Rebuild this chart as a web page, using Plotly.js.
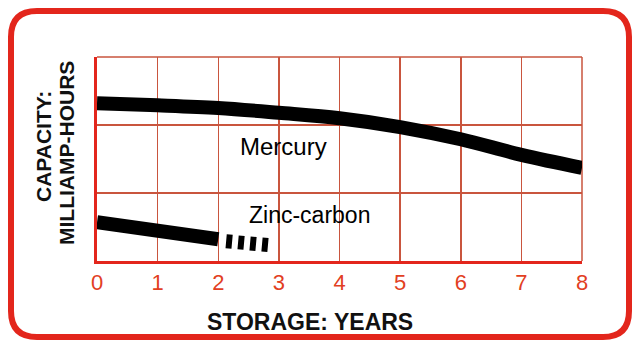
<!DOCTYPE html>
<html>
<head>
<meta charset="utf-8">
<script src="https://cdn.plot.ly/plotly-3.0.1.min.js"></script>
<style>
  html, body { margin: 0; padding: 0; background: #ffffff; }
  #chart { width: 635px; height: 342px; }
</style>
</head>
<body>
<div id="chart"></div>
<script>
// Battery capacity after storage, in grid units of milliamp-hours
const years = [0, 1, 2, 3, 4, 5, 6, 7, 8];
const mercury = [2.32, 2.29, 2.25, 2.18, 2.10, 1.97, 1.79, 1.56, 1.37];

const zincYears = [0, 1, 2];
const zincCarbon = [0.57, 0.46, 0.32];

// projected (dashed) tail of the zinc-carbon curve
const zincTailYears = [2.13, 2.88];
const zincTail = [0.29, 0.23];

const xTickVals = [0, 1, 2, 3, 4, 5, 6, 7, 8];
const xTickText = ['0', '1', '2', '3', '4', '5', '6', '7', '8'];
const yGridVals = [0, 1, 2, 3];

const xTitle = 'STORAGE: YEARS';
const yTitleLines = ['CAPACITY:', 'MILLIAMP-HOURS'];

const W = 635, H = 342;
const M = { l: 97, r: 53, t: 57, b: 81 };
const PW = W - M.l - M.r, PH = H - M.t - M.b;

// pixel position -> paper fraction, for the frame and titles
const fx = px => (px - M.l) / PW;
const fy = py => (H - M.b - py) / PH;

function roundedFrame(left, top, right, bottom, r) {
  const x0 = fx(left), x1 = fx(right), y0 = fy(bottom), y1 = fy(top);
  const rx = r / PW, ry = r / PH;
  return `M ${x0 + rx} ${y1} L ${x1 - rx} ${y1} Q ${x1} ${y1} ${x1} ${y1 - ry} ` +
         `L ${x1} ${y0 + ry} Q ${x1} ${y0} ${x1 - rx} ${y0} ` +
         `L ${x0 + rx} ${y0} Q ${x0} ${y0} ${x0} ${y0 + ry} ` +
         `L ${x0} ${y1 - ry} Q ${x0} ${y1} ${x0 + rx} ${y1} Z`;
}

const RED = '#e3261c';
const GRID = '#c9553e';
const SANS = '"Liberation Sans", Arial, Helvetica, sans-serif';
const titleFont = size => ({ family: SANS, size: size, color: '#111111', weight: 'bold' });

const traces = [
  {
    x: years, y: mercury, type: 'scatter', mode: 'lines',
    line: { color: '#000000', width: 14, shape: 'spline', smoothing: 1 },
    hoverinfo: 'skip', showlegend: false
  },
  {
    x: zincYears, y: zincCarbon, type: 'scatter', mode: 'lines',
    line: { color: '#000000', width: 14 },
    hoverinfo: 'skip', showlegend: false
  },
  {
    x: zincTailYears, y: zincTail, type: 'scatter', mode: 'lines',
    line: { color: '#000000', width: 14, dash: '6px,6px' },
    hoverinfo: 'skip', showlegend: false
  }
];

const layout = {
  width: W, height: H,
  margin: M,
  paper_bgcolor: '#ffffff',
  plot_bgcolor: '#ffffff',
  showlegend: false,
  xaxis: {
    range: [0, 8],
    tickvals: xTickVals, ticktext: xTickText,
    ticks: '',
    tickfont: { family: SANS, size: 22, color: '#e2401f' },
    showgrid: true, gridcolor: GRID, gridwidth: 1.5,
    zeroline: false,
    showline: true, linecolor: RED, linewidth: 3,
    fixedrange: true
  },
  yaxis: {
    range: [0, 3],
    tickvals: yGridVals,
    showticklabels: false,
    ticks: '',
    showgrid: true, gridcolor: GRID, gridwidth: 1.5,
    zeroline: false,
    showline: true, linecolor: RED, linewidth: 3,
    fixedrange: true
  },
  shapes: [
    // thin border on the top and right of the grid
    { type: 'line', xref: 'paper', yref: 'paper', x0: 0, x1: 1, y0: 1, y1: 1,
      line: { color: GRID, width: 1.5 }, layer: 'below' },
    { type: 'line', xref: 'paper', yref: 'paper', x0: 1, x1: 1, y0: 0, y1: 1,
      line: { color: GRID, width: 1.5 }, layer: 'below' },
    // rounded red frame around the whole figure
    { type: 'path', xref: 'paper', yref: 'paper',
      path: roundedFrame(11, 11, 629, 337, 26),
      line: { color: RED, width: 6 }, fillcolor: 'rgba(0,0,0,0)' }
  ],
  annotations: [
    { x: 3.07, y: 1.68, xref: 'x', yref: 'y', text: 'Mercury', showarrow: false,
      font: { family: SANS, size: 24, color: '#000000' } },
    { x: 3.51, y: 0.68, xref: 'x', yref: 'y', text: 'Zinc-carbon', showarrow: false,
      font: { family: SANS, size: 23, color: '#000000' } },
    // axis titles
    { x: fx(310), y: fy(322), xref: 'paper', yref: 'paper', text: xTitle,
      showarrow: false, xanchor: 'center', yanchor: 'middle', font: titleFont(23) },
    { x: fx(43), y: fy(147), xref: 'paper', yref: 'paper', text: yTitleLines[0],
      textangle: -90, showarrow: false, xanchor: 'center', yanchor: 'middle', font: titleFont(21) },
    { x: fx(66), y: fy(153), xref: 'paper', yref: 'paper', text: yTitleLines[1],
      textangle: -90, showarrow: false, xanchor: 'center', yanchor: 'middle', font: titleFont(21) }
  ]
};

Plotly.newPlot('chart', traces, layout, { staticPlot: true, displayModeBar: false });
</script>
</body>
</html>
